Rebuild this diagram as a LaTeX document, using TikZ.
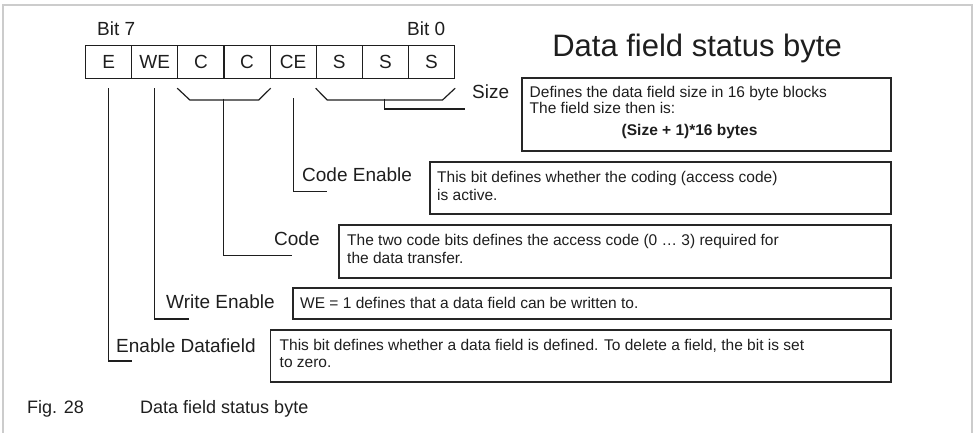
\documentclass[tikz,border=0pt]{standalone}
\usepackage{fontspec}
\setmainfont{Liberation Sans}
\definecolor{ink}{HTML}{1E1E1E}
\definecolor{boxc}{HTML}{262626}
\definecolor{framec}{HTML}{CCCCCC}
\begin{document}
\begin{tikzpicture}[x=1pt,y=-1pt,
  lbl/.style={font=\fontsize{19}{22}\selectfont, inner sep=0pt, anchor=base west, text=ink},
  capt/.style={font=\fontsize{18}{21}\selectfont, inner sep=0pt, anchor=base west, text=ink},
  cell/.style={draw=ink, line width=1.2pt, minimum width=46.125pt, minimum height=33pt, anchor=north west,
    inner sep=0pt, font=\fontsize{19}{22}\selectfont, text=ink, text height=13.6pt, text depth=0pt},
  desc/.style={draw=boxc, line width=1.6pt, anchor=north west, inner sep=0pt},
  dtext/.style={font=\fontsize{15.5}{17.5}\selectfont, inner sep=0pt, anchor=base west, text=ink},
  conn/.style={draw=ink, line width=1.2pt}]
\useasboundingbox (0,0) rectangle (976,432);
% frame
\draw[framec, line width=1.2pt] (3,440) -- (3,5) -- (972,5) -- (972,440);

% title
\node[font=\fontsize{31}{36}\selectfont, anchor=base east, inner sep=0pt, text=ink] (title) at (842,56) {Data field status byte};

% bit labels
\node[lbl] (bit7) at (97,35) {Bit 7};
\node[lbl] (bit0) at (407,35) {Bit 0};

% byte cells
\node[cell] (b7) at (85,45) {E};
\node[cell] (b6) at (131.125,45) {WE};
\node[cell] (b5) at (177.25,45) {C};
\node[cell] (b4) at (223.375,45) {C};
\node[cell] (b3) at (269.5,45) {CE};
\node[cell] (b2) at (315.625,45) {S};
\node[cell] (b1) at (361.75,45) {S};
\node[cell] (b0) at (407.875,45) {S};

% side labels
\node[lbl] (sizelbl) at (472,98) {Size};
\node[lbl] (celbl) at (302,181.7) {Code Enable};
\node[lbl] (codelbl) at (274,245) {Code};
\node[lbl] (welbl) at (166,308) {Write Enable};
\node[lbl] (edlbl) at (116,352) {Enable Datafield};

% description boxes
\node[desc, minimum width=369pt, minimum height=73pt] (sizebox) at (521,77) {};
\node[desc, minimum width=461pt, minimum height=52pt] (cebox) at (429,161) {};
\node[desc, minimum width=552pt, minimum height=53pt] (codebox) at (338,224) {};
\node[desc, minimum width=598pt, minimum height=31pt] (webox) at (292,287) {};
\node[desc, minimum width=620.5pt, minimum height=52pt] (edbox) at (269.5,329) {};

\node[dtext] (sizetext) at ([xshift=8.5pt,yshift=-20.5pt]sizebox.north west)
  {\begin{tabular}[t]{@{}l@{}}Defines the data field size in 16 byte blocks\\[-1.5pt]
   The field size then is:\\[4pt]
   \hspace*{92pt}\bfseries (Size + 1)*16 bytes\end{tabular}};
\node[dtext] (cetext) at ([xshift=8pt,yshift=-21.5pt]cebox.north west)
  {\begin{tabular}[t]{@{}l@{}}This bit defines whether the coding (access code)\\
   is active.\end{tabular}};
\node[dtext] (codetext) at ([xshift=9pt,yshift=-21.5pt]codebox.north west)
  {\begin{tabular}[t]{@{}l@{}}The two code bits defines the access code (0 \ldots\ 3) required for\\
   the data transfer.\end{tabular}};
\node[dtext] (wetext) at ([xshift=8pt,yshift=-21pt]webox.north west)
  {WE = 1 defines that a data field can be written to.};
\node[dtext] (edtext) at ([xshift=10pt,yshift=-21pt]edbox.north west)
  {\begin{tabular}[t]{@{}l@{}}This bit defines whether a data field is defined. To delete a field, the bit is set\\
   to zero.\end{tabular}};

% connector end points
\coordinate (eEnd) at (132,361);
\coordinate (weEnd) at (189,319);
\coordinate (codeEnd) at (292,255.7);
\coordinate (ceEnd) at (327,191.7);
\coordinate (sizeEnd) at (465,109);
\coordinate (cMid) at (223.4,98.7);
\coordinate (sMid) at (384.8,98.7);

% connectors
\draw[conn] ([yshift=-9pt]b7.south) |- (eEnd);
\draw[conn] ([yshift=-9pt]b6.south) |- (weEnd);
\draw[conn] ([yshift=-19pt]b3.south) |- (ceEnd);
\draw[conn] ([yshift=-9pt]b5.south west) -- ++(12.5,11.7) -- ++(69,0) -- ([yshift=-9pt]b4.south east);
\draw[conn] (cMid) |- (codeEnd);
\draw[conn] ([yshift=-9pt]b2.south west) -- ++(11.5,11.7) -- ++(115.5,0) -- ([yshift=-9pt]b0.south east);
\draw[conn] (sMid) |- (sizeEnd);

% caption
\node[capt] (fig) at (27,413) {Fig. 28};
\node[capt] (figtext) at (140,413) {Data field status byte};
\end{tikzpicture}
\end{document}
